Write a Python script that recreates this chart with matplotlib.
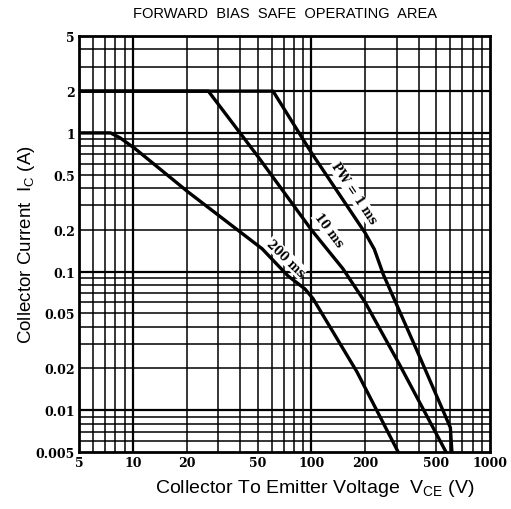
import numpy as np
import matplotlib.pyplot as plt
from matplotlib.ticker import FixedLocator, NullFormatter

# curves (V, A)
v_1ms = [5, 61, 100, 200, 225, 253, 400, 600, 612]
i_1ms = [2, 2, 0.72, 0.19, 0.145, 0.095, 0.025, 0.0075, 0.005]

v_10ms = [5, 26.5, 50, 100, 150, 200, 310, 567]
i_10ms = [2, 2, 0.68, 0.2, 0.105, 0.06, 0.0216, 0.005]

v_200ms = [5, 7.5, 8.5, 10.3, 20.4, 53, 74, 92, 102, 180, 306]
i_200ms = [1, 1, 0.92, 0.77, 0.375, 0.146, 0.093, 0.075, 0.064, 0.0189, 0.005]

x_ticks = [5, 10, 20, 50, 100, 200, 500, 1000]
x_labels = ["5", "10", "20", "50", "100", "200", "500", "1000"]
y_ticks = [0.005, 0.01, 0.02, 0.05, 0.1, 0.2, 0.5, 1, 2, 5]
y_labels = ["0.005", "0.01", "0.02", "0.05", "0.1", "0.2", "0.5", "1", "2", "5"]

fig = plt.figure(figsize=(5.11, 5.10), dpi=100)
ax = fig.add_axes([0.1546, 0.1118, 0.8043, 0.8157])
ax.set_xscale("log")
ax.set_yscale("log")
ax.set_xlim(5, 1000)
ax.set_ylim(0.005, 5)

# grid
x_grid = [d * m for d in (1, 10, 100) for m in range(1, 10) if 5 < d * m < 1000]
y_grid = [d * m for d in (0.001, 0.01, 0.1, 1) for m in range(1, 10) if 0.005 < d * m < 5]
for xv in x_grid:
    lw = 1.6 if xv in (10, 100) else 1.1
    ax.axvline(xv, color="black", lw=lw, zorder=1)
for yv in y_grid:
    lw = 1.6 if yv in (0.01, 0.1, 1, 2) else 1.1
    ax.axhline(yv, color="black", lw=lw, zorder=1)

ax.plot(v_1ms, i_1ms, color="black", lw=2.4, zorder=3)
ax.plot(v_10ms, i_10ms, color="black", lw=2.4, zorder=3)
ax.plot(v_200ms, i_200ms, color="black", lw=2.4, zorder=3)

lab = dict(family="DejaVu Serif", fontsize=8.5, fontweight="bold", ha="center", va="center",
           bbox=dict(facecolor="white", edgecolor="none", pad=0.5), zorder=4)
ax.text(172, 0.37, "PW = 1 ms", rotation=-56, **lab)
ax.text(125, 0.2, "10 ms", rotation=-53, **lab)
ax.text(72, 0.126, "200 ms", rotation=-44, **lab)

ax.xaxis.set_major_locator(FixedLocator(x_ticks))
ax.set_xticklabels(x_labels)
ax.yaxis.set_major_locator(FixedLocator(y_ticks))
ax.set_yticklabels(y_labels)
ax.xaxis.set_minor_formatter(NullFormatter())
ax.yaxis.set_minor_formatter(NullFormatter())
ax.tick_params(which="both", length=0, pad=3)
for t in ax.get_xticklabels() + ax.get_yticklabels():
    t.set_family("DejaVu Serif")
    t.set_fontweight("bold")
    t.set_fontsize(9)

for s in ax.spines.values():
    s.set_linewidth(2)

fig.text(0.617, 0.043, r"Collector To Emitter Voltage  V$_{\mathregular{CE}}$ (V)",
         ha="center", va="center", fontsize=14, family="Liberation Sans")
fig.text(0.052, 0.52, r"Collector Current  I$_{\mathregular{C}}$ (A)", rotation=90,
         ha="center", va="center", fontsize=13.5, family="Liberation Sans")
fig.text(0.558, 0.972, "FORWARD  BIAS  SAFE  OPERATING  AREA", ha="center", va="center",
         fontsize=10.5, family="Liberation Sans")

fig.savefig("out.png", dpi=100)
